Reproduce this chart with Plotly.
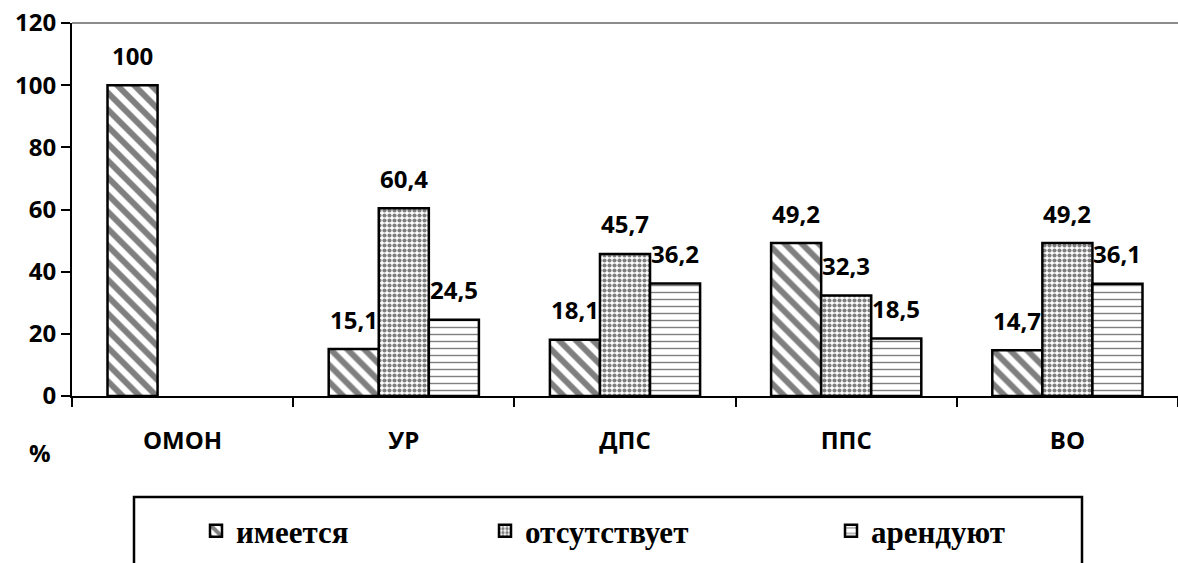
import plotly.graph_objects as go

# Units of the service and share of answers, %
categories = ["ОМОН", "УР", "ДПС", "ППС", "ВО"]
series_names = ["имеется", "отсутствует", "арендуют"]
has_values = [100, 15.1, 18.1, 49.2, 14.7]
absent_values = [None, 60.4, 45.7, 32.3, 49.2]
rent_values = [None, 24.5, 36.2, 18.5, 36.1]
y_ticks = [0, 20, 40, 60, 80, 100, 120]

series_values = [has_values, absent_values, rent_values]

# Layout geometry (pixels)
W, H = 1178, 563
M_L, M_R, M_T, M_B = 72, 0, 23, 167
plot_w = W - M_L - M_R
plot_h = H - M_T - M_B
BARGAP = 0.321
cat_px = plot_w / len(categories)
bar_px = cat_px * (1 - BARGAP) / len(series_names)

LABEL_FONT = dict(family="Open Sans", size=24, color="black", weight="bold")
LEGEND_FONT = dict(family="Liberation Serif", size=31, color="black", weight="bold")

patterns = [
    dict(shape="\\", size=12, solidity=0.5, fgcolor="black", bgcolor="white"),
    dict(shape=".", size=5, solidity=0.55, fgcolor="black", bgcolor="white"),
    dict(shape="-", size=7, solidity=0.2, fgcolor="black", bgcolor="white"),
]
legend_ids = ["legend", "legend2", "legend3"]


def fmt(v):
    return f"{v:g}".replace(".", ",")


fig = go.Figure()
for name, vals, pat, lg in zip(series_names, series_values, patterns, legend_ids):
    fig.add_trace(go.Bar(
        x=categories, y=vals, name=name, legend=lg,
        marker=dict(color="white", pattern=pat, line=dict(color="black", width=2.5)),
    ))

# Value labels above each bar
annotations = []
for i, vals in enumerate(series_values):
    for cat, v in zip(categories, vals):
        if v is None:
            continue
        annotations.append(dict(
            x=cat, y=v, xref="x", yref="y", text=fmt(v), showarrow=False,
            xshift=(i - 1) * bar_px, yshift=30, font=LABEL_FONT,
            xanchor="center", yanchor="middle",
        ))

# Axis unit label
annotations.append(dict(
    x=(40 - M_L) / plot_w, y=(plot_h + M_T - 453) / plot_h, xref="paper", yref="paper",
    text="%", showarrow=False, font=LABEL_FONT, xanchor="center", yanchor="middle",
))

# Legend frame and the top reference line
shapes = [
    dict(type="rect", xref="paper", yref="paper",
         x0=(134 - M_L) / plot_w, x1=(1082 - M_L) / plot_w,
         y0=(plot_h + M_T - 497) / plot_h, y1=(plot_h + M_T - 600) / plot_h,
         line=dict(color="black", width=2.5), fillcolor="rgba(0,0,0,0)", layer="below"),
    dict(type="line", xref="paper", yref="paper", x0=0, x1=1, y0=1, y1=1,
         line=dict(color="#8c8c8c", width=2)),
]

legend_text_x = [241, 530, 876]
legend_y = (plot_h + M_T - 531) / plot_h
legend_cfg = {}
for lg, tx in zip(legend_ids, legend_text_x):
    legend_cfg[lg] = dict(
        x=(tx - 45 - M_L) / plot_w, y=legend_y, xanchor="left", yanchor="middle",
        orientation="h", font=LEGEND_FONT, bgcolor="rgba(0,0,0,0)", borderwidth=0,
    )

fig.update_layout(
    width=W, height=H,
    margin=dict(l=M_L, r=M_R, t=M_T, b=M_B, pad=0),
    paper_bgcolor="white", plot_bgcolor="white",
    barmode="group", bargap=BARGAP, bargroupgap=0,
    font=dict(family="Open Sans", color="black"),
    annotations=annotations, shapes=shapes,
    xaxis=dict(
        range=[-0.5, len(categories) - 0.5], showline=True, linecolor="black", linewidth=2,
        ticks="outside", tickson="boundaries", ticklen=9, tickwidth=2, tickcolor="black",
        tickfont=LABEL_FONT, ticklabelstandoff=22, showgrid=False, zeroline=False,
    ),
    yaxis=dict(
        range=[0, 120], tickvals=y_ticks, showline=True, linecolor="black", linewidth=2,
        ticks="outside", ticklen=9, tickwidth=2, tickcolor="black",
        tickfont=LABEL_FONT, showgrid=False, zeroline=False,
    ),
    showlegend=True,
    **legend_cfg,
)

fig.write_html("out.html")
